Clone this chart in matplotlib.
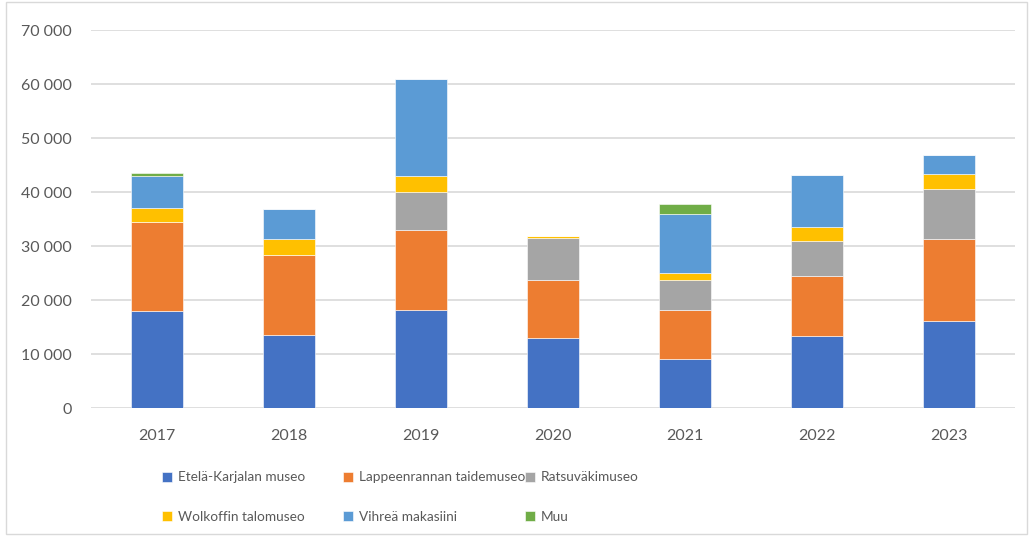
import matplotlib.pyplot as plt
from matplotlib.patches import Rectangle
import numpy as np

# visitor numbers per museum, stacked
years = ['2017', '2018', '2019', '2020', '2021', '2022', '2023']
etela_karjala = [17900, 13600, 18100, 13000, 9000, 13400, 16100]
lappeenranta = [16500, 14800, 14800, 10800, 9200, 11100, 15200]
ratsuvaki = [0, 0, 7200, 7700, 5500, 6500, 9200]
wolkoff = [2700, 2900, 2800, 300, 1300, 2600, 2900]
vihrea = [5800, 5600, 18100, 0, 11000, 9600, 3500]
muu = [600, 0, 0, 0, 1800, 0, 0]

series = [etela_karjala, lappeenranta, ratsuvaki, wolkoff, vihrea, muu]
labels = ['Etelä-Karjalan museo', 'Lappeenrannan taidemuseo', 'Ratsuväkimuseo',
          'Wolkoffin talomuseo', 'Vihreä makasiini', 'Muu']
colors = ['#4472C4', '#ED7D31', '#A5A5A5', '#FFC000', '#5B9BD5', '#70AD47']

plt.rcParams['font.family'] = ['Lato', 'DejaVu Sans']
text_col = '#595959'

fig = plt.figure(figsize=(10.33, 5.37), dpi=100)
ax = fig.add_axes([0.088, 0.2402, 0.8946, 0.7038])

x = np.arange(len(years))
bottom = np.zeros(len(years))
bars = []
for vals, lab, col in zip(series, labels, colors):
    b = ax.bar(x, vals, width=0.4, bottom=bottom, color=col, label=lab,
               edgecolor='white', linewidth=0.4, zorder=3)
    bars.append(b)
    bottom += np.array(vals)

ax.set_ylim(0, 70000)
ax.set_xlim(-0.5, len(years) - 0.5)
ax.set_yticks(range(0, 70001, 10000))
ax.set_yticklabels([f'{v:,}'.replace(',', '\u202f') for v in range(0, 70001, 10000)])
ax.set_xticks(x)
ax.set_xticklabels(years)
ax.grid(axis='y', color='#D9D9D9', linewidth=1.2, zorder=0)
for s in ax.spines.values():
    s.set_visible(False)
ax.tick_params(axis='both', length=0, colors=text_col, labelsize=11.5)
ax.tick_params(axis='y', pad=14)
ax.tick_params(axis='x', pad=15)

# legend: three columns placed like in the original
cols_x = [0.157, 0.332, 0.508]
for i, cx in enumerate(cols_x):
    h = [bars[i], bars[i + 3]]
    l = [labels[i], labels[i + 3]]
    fig.legend(h, l, loc='upper left', bbox_to_anchor=(cx, 0.122), frameon=False,
               handlelength=0.75, handleheight=0.75, handletextpad=0.4,
               labelspacing=2.0, fontsize=9.8, labelcolor=text_col,
               borderaxespad=0, borderpad=0)

fig.patches.append(Rectangle((0.006, 0.006), 0.988, 0.99, transform=fig.transFigure,
                             fill=False, edgecolor='#D9D9D9', linewidth=1))

fig.savefig('out.png', dpi=100)
